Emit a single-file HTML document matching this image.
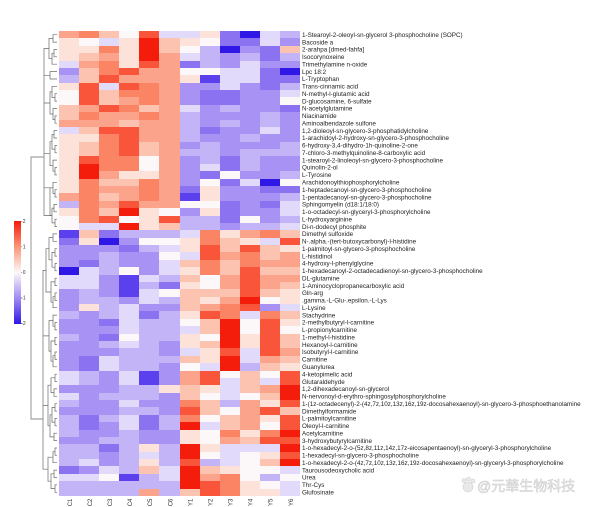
<!DOCTYPE html>
<html><head><meta charset="utf-8">
<style>
html,body{margin:0;padding:0;background:#fff;}
body{width:600px;height:507px;position:relative;overflow:hidden;}
#hm{position:absolute;left:59px;top:31px;width:241px;height:465px;display:grid;grid-template-columns:repeat(12,1fr);grid-template-rows:repeat(63,1fr);}
#hm i{display:block;}
.A{background:#2f17e6}.B{background:#5b40ee}.C{background:#8b72f1}.D{background:#a893f4}.E{background:#c3b4f7}.F{background:#e2dafa}
.W{background:#fcf8f9}
.G{background:#fde2d9}.H{background:#fcc3b1}.I{background:#fca48b}.J{background:#fb8465}.K{background:#f8553a}.L{background:#f41c0a}
#lg{position:absolute;left:14px;top:221px;width:7px;height:103px;background:linear-gradient(to bottom,#f41c0a 0%,#fb9478 25%,#fcf8f9 50%,#a08af3 75%,#2f17e6 100%);}
svg{position:absolute;left:0;top:0;}
</style></head><body>
<div id="lg"></div>
<div id="hm">
<i class=I></i><i class=J></i><i class=H></i><i class=W></i><i class=K></i><i class=F></i><i class=F></i><i class=G></i><i class=C></i><i class=A></i><i class=F></i><i class=E></i>
<i class=G></i><i class=W></i><i class=F></i><i class=G></i><i class=L></i><i class=H></i><i class=G></i><i class=W></i><i class=C></i><i class=C></i><i class=F></i><i class=D></i>
<i class=G></i><i class=G></i><i class=J></i><i class=G></i><i class=L></i><i class=H></i><i class=W></i><i class=E></i><i class=A></i><i class=D></i><i class=C></i><i class=H></i>
<i class=G></i><i class=H></i><i class=I></i><i class=G></i><i class=L></i><i class=I></i><i class=F></i><i class=E></i><i class=D></i><i class=E></i><i class=C></i><i class=E></i>
<i class=F></i><i class=I></i><i class=J></i><i class=G></i><i class=K></i><i class=I></i><i class=C></i><i class=E></i><i class=D></i><i class=F></i><i class=D></i><i class=D></i>
<i class=D></i><i class=H></i><i class=J></i><i class=K></i><i class=I></i><i class=I></i><i class=W></i><i class=W></i><i class=F></i><i class=F></i><i class=C></i><i class=A></i>
<i class=E></i><i class=H></i><i class=K></i><i class=I></i><i class=I></i><i class=I></i><i class=G></i><i class=B></i><i class=F></i><i class=F></i><i class=C></i><i class=C></i>
<i class=G></i><i class=K></i><i class=F></i><i class=K></i><i class=J></i><i class=I></i><i class=D></i><i class=D></i><i class=F></i><i class=D></i><i class=C></i><i class=E></i>
<i class=W></i><i class=K></i><i class=H></i><i class=J></i><i class=J></i><i class=I></i><i class=D></i><i class=C></i><i class=C></i><i class=D></i><i class=D></i><i class=F></i>
<i class=W></i><i class=K></i><i class=H></i><i class=I></i><i class=J></i><i class=I></i><i class=D></i><i class=C></i><i class=C></i><i class=D></i><i class=D></i><i class=W></i>
<i class=H></i><i class=I></i><i class=K></i><i class=J></i><i class=H></i><i class=I></i><i class=F></i><i class=D></i><i class=E></i><i class=D></i><i class=D></i><i class=C></i>
<i class=H></i><i class=J></i><i class=I></i><i class=I></i><i class=J></i><i class=I></i><i class=E></i><i class=D></i><i class=D></i><i class=D></i><i class=E></i><i class=D></i>
<i class=I></i><i class=I></i><i class=I></i><i class=H></i><i class=I></i><i class=I></i><i class=E></i><i class=D></i><i class=E></i><i class=D></i><i class=E></i><i class=D></i>
<i class=F></i><i class=H></i><i class=K></i><i class=K></i><i class=I></i><i class=I></i><i class=E></i><i class=C></i><i class=D></i><i class=D></i><i class=F></i><i class=D></i>
<i class=G></i><i class=G></i><i class=J></i><i class=K></i><i class=I></i><i class=I></i><i class=E></i><i class=D></i><i class=D></i><i class=E></i><i class=D></i><i class=D></i>
<i class=G></i><i class=H></i><i class=J></i><i class=K></i><i class=H></i><i class=I></i><i class=D></i><i class=E></i><i class=D></i><i class=D></i><i class=D></i><i class=E></i>
<i class=G></i><i class=H></i><i class=J></i><i class=K></i><i class=H></i><i class=I></i><i class=E></i><i class=E></i><i class=D></i><i class=E></i><i class=E></i><i class=E></i>
<i class=G></i><i class=K></i><i class=J></i><i class=J></i><i class=W></i><i class=I></i><i class=D></i><i class=E></i><i class=C></i><i class=E></i><i class=D></i><i class=D></i>
<i class=G></i><i class=L></i><i class=J></i><i class=J></i><i class=W></i><i class=I></i><i class=D></i><i class=F></i><i class=C></i><i class=E></i><i class=D></i><i class=D></i>
<i class=G></i><i class=L></i><i class=I></i><i class=G></i><i class=G></i><i class=I></i><i class=D></i><i class=C></i><i class=W></i><i class=D></i><i class=D></i><i class=E></i>
<i class=G></i><i class=J></i><i class=H></i><i class=H></i><i class=J></i><i class=I></i><i class=D></i><i class=W></i><i class=C></i><i class=F></i><i class=A></i><i class=W></i>
<i class=G></i><i class=J></i><i class=I></i><i class=I></i><i class=J></i><i class=I></i><i class=C></i><i class=G></i><i class=D></i><i class=D></i><i class=C></i><i class=C></i>
<i class=I></i><i class=J></i><i class=H></i><i class=I></i><i class=J></i><i class=I></i><i class=B></i><i class=G></i><i class=D></i><i class=D></i><i class=D></i><i class=E></i>
<i class=E></i><i class=J></i><i class=I></i><i class=K></i><i class=I></i><i class=I></i><i class=W></i><i class=W></i><i class=C></i><i class=D></i><i class=C></i><i class=F></i>
<i class=G></i><i class=J></i><i class=H></i><i class=L></i><i class=G></i><i class=W></i><i class=D></i><i class=G></i><i class=C></i><i class=D></i><i class=D></i><i class=F></i>
<i class=W></i><i class=J></i><i class=K></i><i class=W></i><i class=G></i><i class=K></i><i class=E></i><i class=E></i><i class=C></i><i class=W></i><i class=D></i><i class=E></i>
<i class=W></i><i class=F></i><i class=F></i><i class=L></i><i class=G></i><i class=H></i><i class=E></i><i class=E></i><i class=D></i><i class=E></i><i class=E></i><i class=F></i>
<i class=B></i><i class=H></i><i class=C></i><i class=E></i><i class=E></i><i class=E></i><i class=F></i><i class=J></i><i class=G></i><i class=I></i><i class=J></i><i class=H></i>
<i class=C></i><i class=G></i><i class=A></i><i class=D></i><i class=W></i><i class=W></i><i class=G></i><i class=J></i><i class=H></i><i class=G></i><i class=F></i><i class=K></i>
<i class=D></i><i class=D></i><i class=D></i><i class=C></i><i class=E></i><i class=F></i><i class=G></i><i class=K></i><i class=H></i><i class=K></i><i class=H></i><i class=G></i>
<i class=D></i><i class=D></i><i class=E></i><i class=D></i><i class=D></i><i class=W></i><i class=F></i><i class=K></i><i class=I></i><i class=J></i><i class=H></i><i class=I></i>
<i class=D></i><i class=C></i><i class=E></i><i class=D></i><i class=D></i><i class=F></i><i class=H></i><i class=J></i><i class=H></i><i class=J></i><i class=I></i><i class=I></i>
<i class=A></i><i class=F></i><i class=E></i><i class=W></i><i class=D></i><i class=F></i><i class=G></i><i class=J></i><i class=H></i><i class=K></i><i class=H></i><i class=H></i>
<i class=F></i><i class=F></i><i class=D></i><i class=B></i><i class=F></i><i class=E></i><i class=H></i><i class=W></i><i class=I></i><i class=K></i><i class=I></i><i class=I></i>
<i class=F></i><i class=F></i><i class=D></i><i class=B></i><i class=E></i><i class=C></i><i class=G></i><i class=W></i><i class=I></i><i class=K></i><i class=I></i><i class=H></i>
<i class=D></i><i class=E></i><i class=D></i><i class=B></i><i class=F></i><i class=W></i><i class=H></i><i class=H></i><i class=H></i><i class=K></i><i class=H></i><i class=G></i>
<i class=D></i><i class=E></i><i class=E></i><i class=D></i><i class=F></i><i class=E></i><i class=H></i><i class=G></i><i class=I></i><i class=L></i><i class=W></i><i class=G></i>
<i class=D></i><i class=G></i><i class=E></i><i class=F></i><i class=D></i><i class=D></i><i class=H></i><i class=I></i><i class=J></i><i class=K></i><i class=D></i><i class=F></i>
<i class=E></i><i class=D></i><i class=E></i><i class=F></i><i class=C></i><i class=E></i><i class=G></i><i class=K></i><i class=J></i><i class=F></i><i class=J></i><i class=H></i>
<i class=D></i><i class=D></i><i class=C></i><i class=F></i><i class=E></i><i class=E></i><i class=W></i><i class=H></i><i class=L></i><i class=W></i><i class=K></i><i class=G></i>
<i class=D></i><i class=D></i><i class=D></i><i class=F></i><i class=E></i><i class=E></i><i class=F></i><i class=H></i><i class=L></i><i class=W></i><i class=K></i><i class=W></i>
<i class=E></i><i class=D></i><i class=C></i><i class=W></i><i class=E></i><i class=E></i><i class=G></i><i class=W></i><i class=L></i><i class=G></i><i class=K></i><i class=H></i>
<i class=D></i><i class=D></i><i class=E></i><i class=F></i><i class=E></i><i class=D></i><i class=G></i><i class=H></i><i class=L></i><i class=G></i><i class=K></i><i class=H></i>
<i class=D></i><i class=D></i><i class=D></i><i class=E></i><i class=E></i><i class=D></i><i class=F></i><i class=G></i><i class=K></i><i class=F></i><i class=K></i><i class=I></i>
<i class=D></i><i class=C></i><i class=F></i><i class=E></i><i class=E></i><i class=E></i><i class=H></i><i class=G></i><i class=L></i><i class=F></i><i class=I></i><i class=H></i>
<i class=D></i><i class=C></i><i class=F></i><i class=E></i><i class=E></i><i class=D></i><i class=W></i><i class=F></i><i class=L></i><i class=E></i><i class=H></i><i class=G></i>
<i class=F></i><i class=E></i><i class=D></i><i class=F></i><i class=B></i><i class=D></i><i class=I></i><i class=K></i><i class=W></i><i class=H></i><i class=W></i><i class=K></i>
<i class=F></i><i class=E></i><i class=D></i><i class=F></i><i class=B></i><i class=D></i><i class=I></i><i class=K></i><i class=F></i><i class=H></i><i class=F></i><i class=K></i>
<i class=D></i><i class=D></i><i class=D></i><i class=E></i><i class=E></i><i class=G></i><i class=H></i><i class=G></i><i class=F></i><i class=H></i><i class=I></i><i class=L></i>
<i class=F></i><i class=D></i><i class=E></i><i class=E></i><i class=E></i><i class=D></i><i class=H></i><i class=W></i><i class=F></i><i class=W></i><i class=H></i><i class=L></i>
<i class=E></i><i class=D></i><i class=D></i><i class=F></i><i class=D></i><i class=D></i><i class=J></i><i class=H></i><i class=E></i><i class=I></i><i class=G></i><i class=K></i>
<i class=D></i><i class=D></i><i class=D></i><i class=E></i><i class=E></i><i class=D></i><i class=K></i><i class=H></i><i class=W></i><i class=I></i><i class=K></i><i class=H></i>
<i class=E></i><i class=C></i><i class=E></i><i class=F></i><i class=C></i><i class=E></i><i class=J></i><i class=W></i><i class=H></i><i class=I></i><i class=G></i><i class=K></i>
<i class=E></i><i class=C></i><i class=D></i><i class=F></i><i class=C></i><i class=E></i><i class=L></i><i class=F></i><i class=H></i><i class=I></i><i class=W></i><i class=K></i>
<i class=E></i><i class=D></i><i class=D></i><i class=E></i><i class=D></i><i class=D></i><i class=G></i><i class=W></i><i class=J></i><i class=G></i><i class=J></i><i class=L></i>
<i class=D></i><i class=D></i><i class=E></i><i class=E></i><i class=D></i><i class=D></i><i class=G></i><i class=W></i><i class=I></i><i class=H></i><i class=K></i><i class=K></i>
<i class=E></i><i class=E></i><i class=C></i><i class=E></i><i class=G></i><i class=E></i><i class=L></i><i class=G></i><i class=F></i><i class=F></i><i class=F></i><i class=L></i>
<i class=E></i><i class=E></i><i class=D></i><i class=E></i><i class=F></i><i class=E></i><i class=L></i><i class=W></i><i class=F></i><i class=W></i><i class=G></i><i class=K></i>
<i class=E></i><i class=F></i><i class=D></i><i class=E></i><i class=G></i><i class=E></i><i class=K></i><i class=E></i><i class=F></i><i class=W></i><i class=H></i><i class=L></i>
<i class=C></i><i class=D></i><i class=F></i><i class=E></i><i class=H></i><i class=F></i><i class=L></i><i class=H></i><i class=G></i><i class=W></i><i class=W></i><i class=F></i>
<i class=F></i><i class=F></i><i class=W></i><i class=B></i><i class=E></i><i class=F></i><i class=L></i><i class=I></i><i class=J></i><i class=W></i><i class=E></i><i class=W></i>
<i class=E></i><i class=E></i><i class=E></i><i class=E></i><i class=E></i><i class=E></i><i class=L></i><i class=K></i><i class=J></i><i class=G></i><i class=W></i><i class=F></i>
<i class=E></i><i class=E></i><i class=E></i><i class=E></i><i class=I></i><i class=E></i><i class=H></i><i class=K></i><i class=J></i><i class=G></i><i class=G></i><i class=F></i>
</div>
<svg width="600" height="507" viewBox="0 0 600 507" xmlns="http://www.w3.org/2000/svg">
<g fill="none" stroke="#6a6a6a" stroke-width="0.7">
<path d="M57 34.7H53V42.1H57M57 49.5H54V56.8H57M54 53.2H52V64.2H57M53 38.4H49V58.7H52"/>
<path d="M57 71.6H50V79H57"/>
<path d="M57 93.7H55V101.1H57M57 86.3H52V97.4H55"/>
<path d="M57 115.9H55V123.2H57M57 108.5H53V119.6H55"/>
<path d="M57 130.6H54V138H57M57 145.4H55V152.8H57M54 134.3H52V149.1H55"/>
<path d="M57 167.5H55V174.9H57M57 160.1H53V171.2H55"/>
<path d="M57 189.7H55V197H57M57 182.3H53V193.4H55"/>
<path d="M57 204.4H54V211.8H57M57 219.2H55V226.6H57M54 208.1H52V222.9H55"/>
<path d="M52 91.9H50V114H53M52 141.7H50V165.7H53M53 187.8H50V215.5H52"/>
<path d="M49 48.5H44V215.5H52M44 75.3H50M44 103H50M44 153.7H50M44 187.8H50"/>
<path d="M44 157H31V419H43"/>
<path d="M57 233.9H53V241.3H57M57 248.7H55V256.1H57M57 263.5H55V270.8H57M55 252.4H52V267.2H55M53 237.6H49V259.8H52"/>
<path d="M57 278.2H55V285.6H57M57 293H55V300.4H57M55 296.7H53V307.7H57M55 281.9H51V302.2H53"/>
<path d="M49 248.7H46V292H51"/>
<path d="M57 322.5H55V329.9H57M57 315.1H53V326.2H55M57 337.3H55V344.6H57M57 352H55V359.4H57M55 355.7H53V366.8H57M55 341H51V361.2H53M53 320.6H49V351.1H51"/>
<path d="M57 374.2H55V381.5H57M57 388.9H54V396.3H57M57 403.7H55V411.1H57M57 418.4H55V425.8H57M57 433.2H54V440.6H57M55 377.8H51V392.6H54M55 407.4H52V422.1H55M52 414.8H50V436.9H54M51 385.2H48V425.8H50"/>
<path d="M57 448H55V455.3H57M55 451.7H53V462.7H57M57 470.1H54V477.5H57M57 484.9H55V492.3H57M54 473.8H51V488.6H55M53 457.2H48V481.2H51"/>
<path d="M46 270.4H43V469.2H48M43 335.9H49M43 405.5H48"/>
</g>
<g stroke="#555" stroke-width="0.5">
<path d="M21 221.3H22.2M21 246.8H22.2M21 272.3H22.2M21 297.8H22.2M21 323.3H22.2"/>
</g>
<g font-family="Liberation Sans, Arial, sans-serif" font-size="5" fill="#333">
<text x="22.8" y="223">2</text>
<text x="22.8" y="248.5">1</text>
<text x="22.8" y="274">0</text>
<text x="21.2" y="299.5">-1</text>
<text x="21.2" y="325">-2</text>
</g>
<g font-family="Liberation Sans, Arial, sans-serif" font-size="6" fill="#333" text-anchor="end">
<text transform="translate(71.8,498.6) rotate(-90)">C1</text>
<text transform="translate(91.9,498.6) rotate(-90)">C2</text>
<text transform="translate(112,498.6) rotate(-90)">C3</text>
<text transform="translate(132.1,498.6) rotate(-90)">C4</text>
<text transform="translate(152.2,498.6) rotate(-90)">C5</text>
<text transform="translate(172.3,498.6) rotate(-90)">C6</text>
<text transform="translate(192.3,498.6) rotate(-90)">Y1</text>
<text transform="translate(212.4,498.6) rotate(-90)">Y2</text>
<text transform="translate(232.5,498.6) rotate(-90)">Y3</text>
<text transform="translate(252.6,498.6) rotate(-90)">Y4</text>
<text transform="translate(272.7,498.6) rotate(-90)">Y5</text>
<text transform="translate(292.8,498.6) rotate(-90)">Y6</text>
</g>
<text font-family="Liberation Sans, Arial, sans-serif" font-size="6.3" fill="#222" x="302" y="36.89">
<tspan x="302" y="36.89">1-Stearoyl-2-oleoyl-sn-glycerol 3-phosphocholine (SOPC)</tspan>
<tspan x="302" dy="7.38">Bacoside a</tspan>
<tspan x="302" dy="7.38">2-arahpa [dmed-fahfa]</tspan>
<tspan x="302" dy="7.38">Isocorynoxeine</tspan>
<tspan x="302" dy="7.38">Trimethylamine n-oxide</tspan>
<tspan x="302" dy="7.38">Lpc 18:2</tspan>
<tspan x="302" dy="7.38">L-Tryptophan</tspan>
<tspan x="302" dy="7.38">Trans-cinnamic acid</tspan>
<tspan x="302" dy="7.38">N-methyl-l-glutamic acid</tspan>
<tspan x="302" dy="7.38">D-glucosamine, 6-sulfate</tspan>
<tspan x="302" dy="7.38">N-acetylglutamine</tspan>
<tspan x="302" dy="7.38">Niacinamide</tspan>
<tspan x="302" dy="7.38">Aminoalbendazole sulfone</tspan>
<tspan x="302" dy="7.38">1,2-dioleoyl-sn-glycero-3-phosphatidylcholine</tspan>
<tspan x="302" dy="7.38">1-arachidoyl-2-hydroxy-sn-glycero-3-phosphocholine</tspan>
<tspan x="302" dy="7.38">6-hydroxy-3,4-dihydro-1h-quinoline-2-one</tspan>
<tspan x="302" dy="7.38">7-chloro-3-methylquinoline-8-carboxylic acid</tspan>
<tspan x="302" dy="7.38">1-stearoyl-2-linoleoyl-sn-glycero-3-phosphocholine</tspan>
<tspan x="302" dy="7.38">Quinolin-2-ol</tspan>
<tspan x="302" dy="7.38">L-Tyrosine</tspan>
<tspan x="302" dy="7.38">Arachidonoylthiophosphorylcholine</tspan>
<tspan x="302" dy="7.38">1-heptadecanoyl-sn-glycero-3-phosphocholine</tspan>
<tspan x="302" dy="7.38">1-pentadecanoyl-sn-glycero-3-phosphocholine</tspan>
<tspan x="302" dy="7.38">Sphingomyelin (d18:1/18:0)</tspan>
<tspan x="302" dy="7.38">1-o-octadecyl-sn-glyceryl-3-phosphorylcholine</tspan>
<tspan x="302" dy="7.38">L-hydroxyarginine</tspan>
<tspan x="302" dy="7.38">Di-n-dodecyl phosphite</tspan>
<tspan x="302" dy="7.38">Dimethyl sulfoxide</tspan>
<tspan x="302" dy="7.38">N-.alpha.-(tert-butoxycarbonyl)-l-histidine</tspan>
<tspan x="302" dy="7.38">1-palmitoyl-sn-glycero-3-phosphocholine</tspan>
<tspan x="302" dy="7.38">L-histidinol</tspan>
<tspan x="302" dy="7.38">4-hydroxy-l-phenylglycine</tspan>
<tspan x="302" dy="7.38">1-hexadecanoyl-2-octadecadienoyl-sn-glycero-3-phosphocholine</tspan>
<tspan x="302" dy="7.38">DL-glutamine</tspan>
<tspan x="302" dy="7.38">1-Aminocyclopropanecarboxylic acid</tspan>
<tspan x="302" dy="7.38">Gln-arg</tspan>
<tspan x="302" dy="7.38">.gamma.-L-Glu-.epsilon.-L-Lys</tspan>
<tspan x="302" dy="7.38">L-Lysine</tspan>
<tspan x="302" dy="7.38">Stachydrine</tspan>
<tspan x="302" dy="7.38">2-methylbutyryl-l-carnitine</tspan>
<tspan x="302" dy="7.38">L-propionylcarnitine</tspan>
<tspan x="302" dy="7.38">1-methyl-l-histidine</tspan>
<tspan x="302" dy="7.38">Hexanoyl-l-carnitine</tspan>
<tspan x="302" dy="7.38">Isobutyryl-l-carnitine</tspan>
<tspan x="302" dy="7.38">Carnitine</tspan>
<tspan x="302" dy="7.38">Guanylurea</tspan>
<tspan x="302" dy="7.38">4-ketopimelic acid</tspan>
<tspan x="302" dy="7.38">Glutaraldehyde</tspan>
<tspan x="302" dy="7.38">1,2-dihexadecanoyl-sn-glycerol</tspan>
<tspan x="302" dy="7.38">N-nervonoyl-d-erythro-sphingosylphosphorylcholine</tspan>
<tspan x="302" dy="7.38">1-(1z-octadecenyl)-2-(4z,7z,10z,13z,16z,19z-docosahexaenoyl)-sn-glycero-3-phosphoethanolamine</tspan>
<tspan x="302" dy="7.38">Dimethylformamide</tspan>
<tspan x="302" dy="7.38">L-palmitoylcarnitine</tspan>
<tspan x="302" dy="7.38">Oleoyl-l-carnitine</tspan>
<tspan x="302" dy="7.38">Acetylcarnitine</tspan>
<tspan x="302" dy="7.38">3-hydroxybutyrylcarnitine</tspan>
<tspan x="302" dy="7.38">1-o-hexadecyl-2-o-(5z,8z,11z,14z,17z-eicosapentaenoyl)-sn-glyceryl-3-phosphorylcholine</tspan>
<tspan x="302" dy="7.38">1-hexadecyl-sn-glycero-3-phosphocholine</tspan>
<tspan x="302" dy="7.38">1-o-hexadecyl-2-o-(4z,7z,10z,13z,16z,19z-docosahexaenoyl)-sn-glyceryl-3-phosphorylcholine</tspan>
<tspan x="302" dy="7.38">Taurousodeoxycholic acid</tspan>
<tspan x="302" dy="7.38">Urea</tspan>
<tspan x="302" dy="7.38">Thr-Cys</tspan>
<tspan x="302" dy="7.38">Glufosinate</tspan>
</text>
<g fill="#e9e9e9" stroke="#cfcfcf" stroke-width="0.6">
<circle cx="468" cy="487" r="5"/>
<circle cx="464" cy="480.5" r="2"/>
<circle cx="468.5" cy="479" r="2"/>
<circle cx="473" cy="481" r="2"/>
</g>
<text x="477" y="491" font-family="Liberation Sans, Noto Sans CJK SC, sans-serif" font-size="14" fill="#ececec" stroke="#cbcbcb" stroke-width="0.5">@元華生物科技</text>
</svg>
</body></html>
